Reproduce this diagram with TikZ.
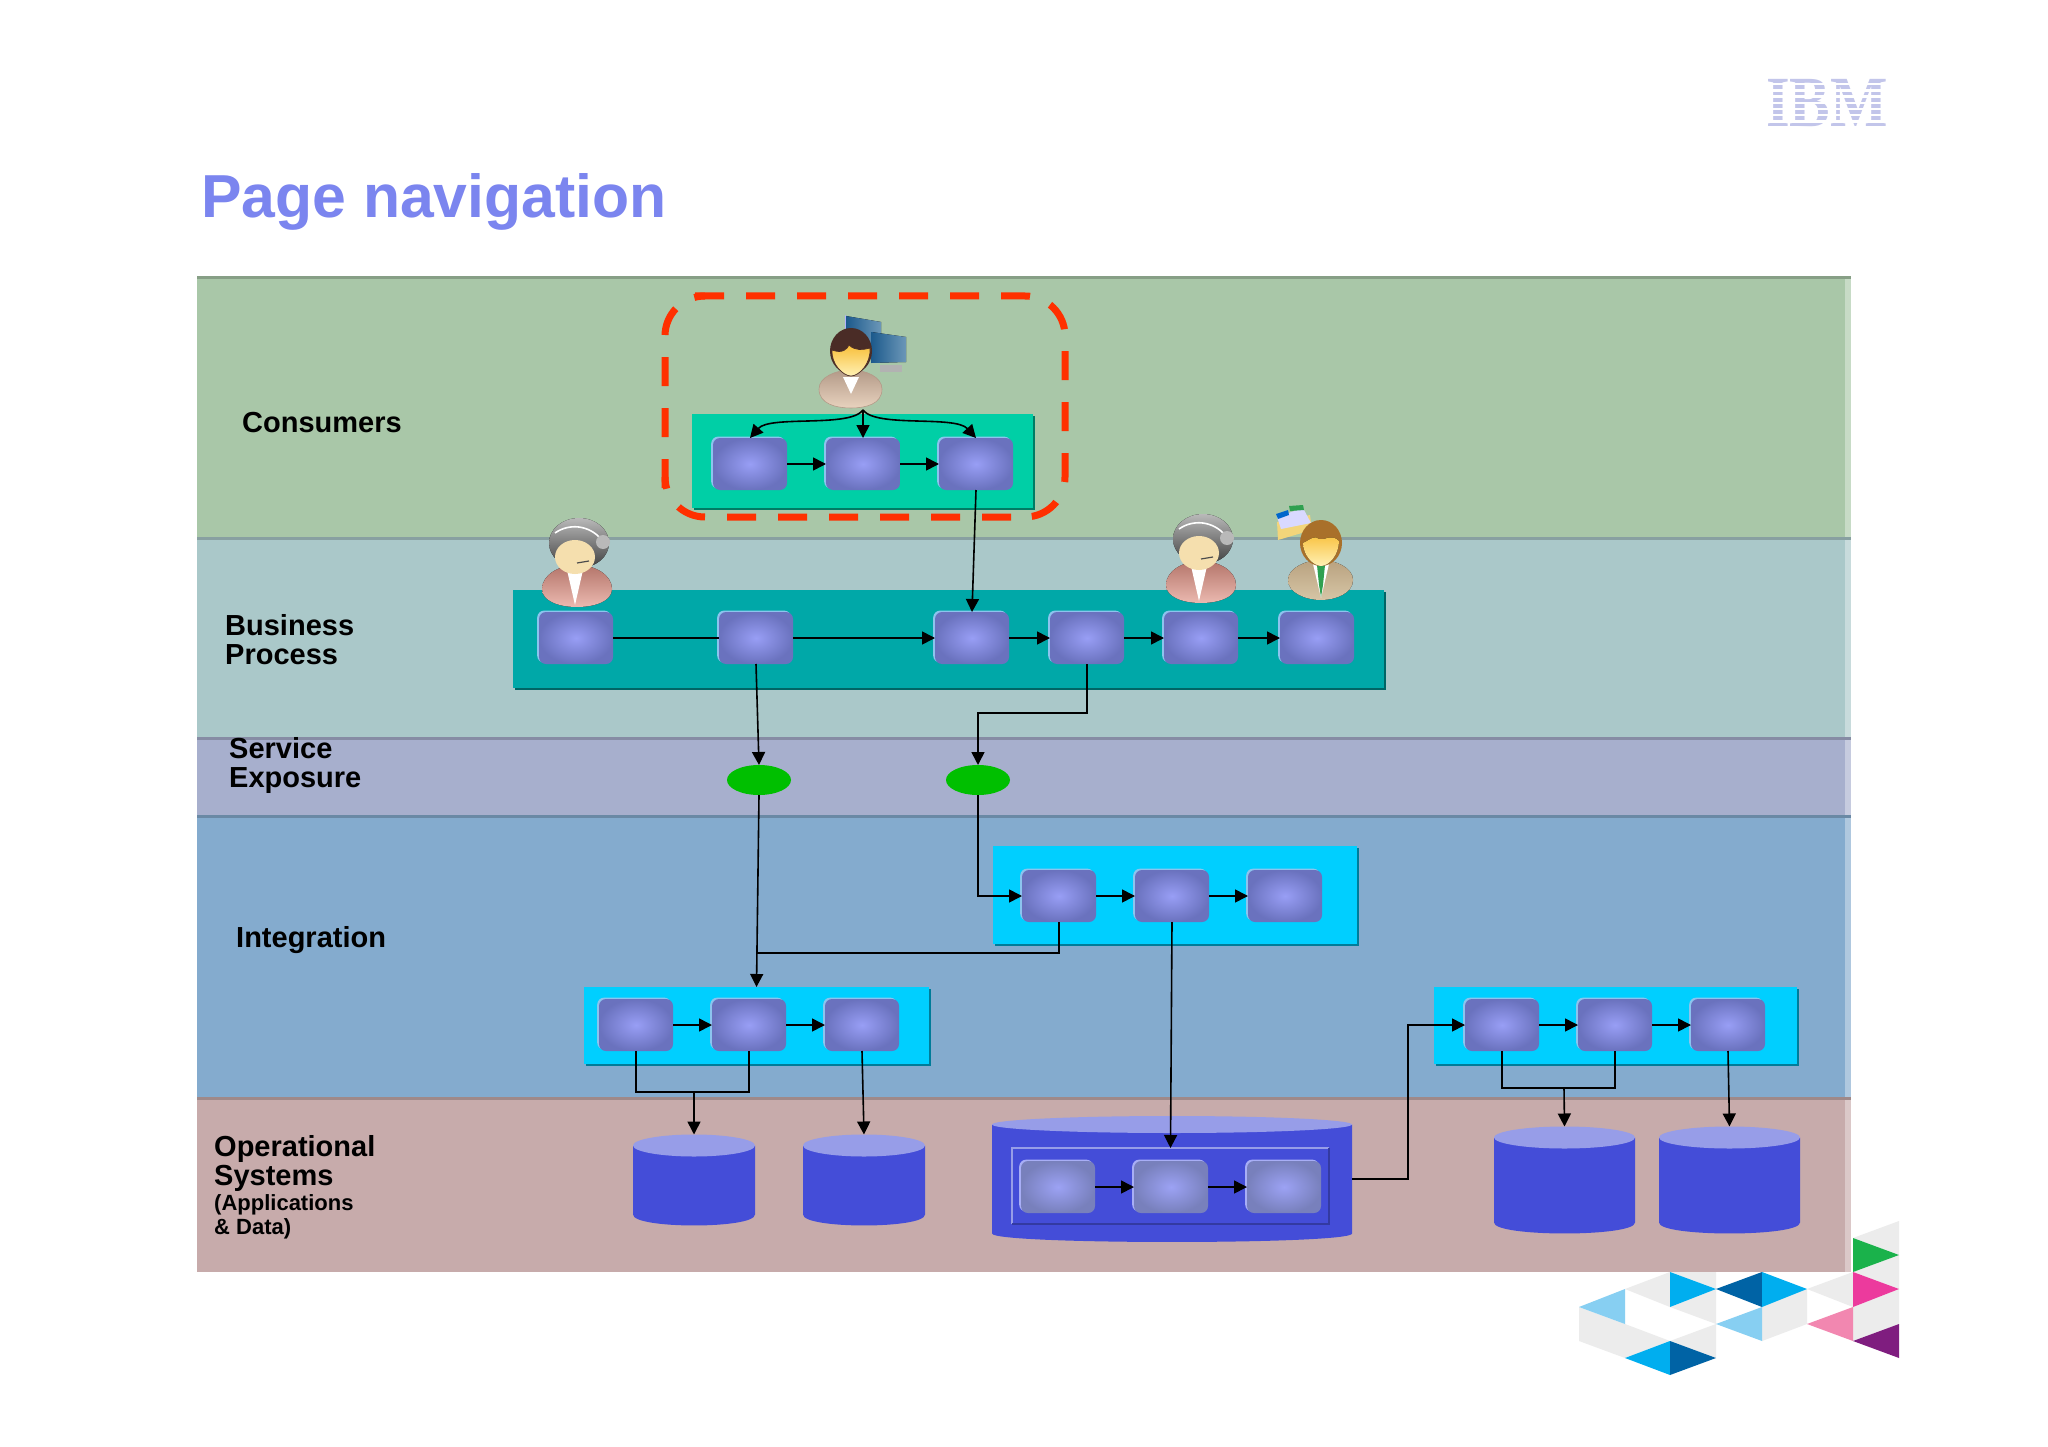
\documentclass[tikz,border=0pt]{standalone}
\usepackage{fontspec}
\setmainfont{Liberation Sans}
\newfontfamily\logofont{Liberation Serif}
\usepackage{tikz}
\usetikzlibrary{arrows.meta,positioning,shadows,shapes.geometric}

\definecolor{conscol}{HTML}{A9C7A8}
\definecolor{busicol}{HTML}{AAC8C9}
\definecolor{servcol}{HTML}{A7AFCD}
\definecolor{integcol}{HTML}{84ABCE}
\definecolor{opercol}{HTML}{C7ABAB}
\definecolor{titlecol}{HTML}{7B85EF}
\definecolor{dashred}{HTML}{FF3000}
\definecolor{dbbody}{HTML}{444DD8}
\definecolor{dbtop}{HTML}{979DE8}
\definecolor{logocol}{HTML}{C2C5EA}
\definecolor{triblue}{HTML}{00AEEF}
\definecolor{tridark}{HTML}{0063A5}
\definecolor{trilight}{HTML}{87CFF2}
\definecolor{trigrey}{HTML}{ECECEC}
\definecolor{trigreen}{HTML}{1AB24B}
\definecolor{tripink}{HTML}{EC3A9D}
\definecolor{trirose}{HTML}{F287B0}
\definecolor{tripurple}{HTML}{7F1D7F}
\definecolor{procmid}{HTML}{989EF5}
\definecolor{procedge}{HTML}{6A72BE}
\definecolor{procrim}{HTML}{8CC4EE}
\definecolor{dbmid}{HTML}{9CA2F4}
\definecolor{dbedge}{HTML}{7880BC}
\definecolor{dbrim}{HTML}{A8AEF6}
\definecolor{holdcons}{HTML}{00CFA6}
\definecolor{holdbusi}{HTML}{00A8A8}
\definecolor{holdint}{HTML}{00CFFF}
\definecolor{monlow}{HTML}{1C5A8C}
\definecolor{monhigh}{HTML}{6C97B8}
\definecolor{skintop}{HTML}{F8BF3A}
\definecolor{skinlow}{HTML}{FFF1B4}
\definecolor{skinpale}{HTML}{F5DFAE}
\definecolor{conshair}{HTML}{4A2C26}
\definecolor{conslow}{HTML}{E8D2BE}
\definecolor{constop}{HTML}{B39A88}
\definecolor{agenttop}{HTML}{B4756A}
\definecolor{agentlow}{HTML}{EBB9B0}
\definecolor{mgrtop}{HTML}{B9A27F}
\definecolor{mgrlow}{HTML}{D6C5A6}
\definecolor{mgrhair}{HTML}{A9702A}
\definecolor{mgrtie}{HTML}{2FA050}
\definecolor{folderyel}{HTML}{F3D57A}

\newcommand{\dbcyl}[3]{% node name, half width, end radius
	\fill[dbbody] ([yshift=-#3pt]#1.north west) -- ([yshift=#3pt]#1.south west) .. controls +(0,1.33*#3) and +(0,1.33*#3) .. ([yshift=#3pt]#1.south east) -- ([yshift=-#3pt]#1.north east) -- cycle;
	\fill[dbtop] ([yshift=-#3pt]#1.north) circle[x radius=#2pt,y radius=#3pt];
}

\tikzset{
	band/.style={rectangle,minimum width=1654pt,inner sep=0pt,outer sep=0pt},
	layername/.style={anchor=west,align=left,inner sep=0pt,font=\fontsize{29}{29}\selectfont\bfseries},
	proc/.style={rectangle,rounded corners=7pt,minimum width=74pt,minimum height=52pt,inner sep=0pt,outer sep=0pt,
		inner color=procmid,outer color=procedge,
		general shadow={fill=procrim,shadow xshift=-1.8pt,shadow yshift=1.4pt}},
	dbproc/.style={rectangle,rounded corners=7pt,minimum width=74pt,minimum height=52pt,inner sep=0pt,outer sep=0pt,
		inner color=dbmid,outer color=dbedge,
		general shadow={fill=dbrim,shadow xshift=-1.8pt,shadow yshift=1.4pt}},
	holder/.style={rectangle,inner sep=0pt,outer sep=0pt,fill=#1,
		general shadow={fill=#1!60!black,shadow xshift=1.6pt,shadow yshift=-1.6pt}},
	expose/.style={ellipse,fill=green!75!black,minimum width=64pt,minimum height=30pt,inner sep=0pt,outer sep=0pt},
	db/.style={rectangle,inner sep=0pt,outer sep=0pt},
	flow/.style={line width=1.6pt,-{Triangle[length=13pt,width=13pt]}},
	conn/.style={line width=1.6pt},
	focusline/.style={dashred,line width=7pt,rounded corners=40pt,dash pattern=on 29pt off 22pt},
	consumer/.pic={
		\fill[white!70!blue] (-6,-37) -- (-6,-9) -- (-4,-9) -- (-4,-35) -- cycle;
		\fill[left color=monlow,right color=monhigh] (-5,-36) -- (30,-30) -- (30,-5) -- (-5,-9) -- cycle;
		\fill[left color=monlow,right color=monhigh] (20,-20) -- (55,-15) -- (55,10) -- (20,11) -- cycle;
		\fill[gray!60] (29,13) rectangle (51,20);
		\draw[top color=constop,bottom color=conslow,draw=constop,line width=.6pt] (-32,37) .. controls (-32,25) and (-15,18) .. (0,18) .. controls (15,18) and (31,25) .. (31,37) .. controls (31,52) and (15,56) .. (0,56) .. controls (-15,56) and (-32,52) .. (-32,37) -- cycle;
		\fill[white] (-8,25) -- (8,25) -- (0,42) -- cycle;
		\fill[conshair] (0,-1) circle[x radius=21pt,y radius=23pt];
		\draw[top color=skintop,bottom color=skinlow,draw=conshair,line width=.7pt] (-19,-2) .. controls (-8,2) and (-4,-3) .. (-2,-7) .. controls (4,-1) and (12,-2) .. (19,-4) .. controls (20,12) and (8,24) .. (0,24) .. controls (-8,24) and (-20,12) .. (-19,-2) -- cycle;
	},
	agent/.pic={
		\fill[top color=agenttop,bottom color=agentlow] (-35,32) .. controls (-35,18) and (-18,8) .. (0,8) .. controls (18,8) and (35,18) .. (35,32) .. controls (35,44) and (18,50) .. (0,50) .. controls (-18,50) and (-35,44) .. (-35,32) -- cycle;
		\fill[white] (-10,13) -- (6,13) -- (-2,48) -- cycle;
		\fill[top color=gray!55,bottom color=black!50!gray] (2,-14) circle[x radius=30pt,y radius=25pt];
		\fill[skinpale] (-2,0) circle[x radius=20pt,y radius=17pt];
		\draw[white,line width=1.6pt] (-22,-24) .. controls (-8,-34) and (12,-32) .. (24,-18);
		\fill[gray!55] (26,-15) circle[radius=7pt];
		\draw[black!70,line width=1.2pt] (0,6) -- (12,4);
	},
	manager/.pic={
		\fill[folderyel] (-44,-21) -- (-11,-28) -- (-9,-13) -- (-43,-3) -- cycle;
		\fill[white!85!blue] (-44,-26) -- (-18,-35) -- (-10,-20) -- (-40,-14) -- cycle;
		\fill[blue!50!cyan!80!black] (-45,-29) -- (-33,-33) -- (-32,-28) -- (-43,-24) -- cycle;
		\fill[mgrtie] (-32,-37) -- (-18,-38) -- (-17,-33) -- (-31,-32) -- cycle;
		\fill[top color=mgrtop,bottom color=mgrlow] (-33,37) .. controls (-33,25) and (-15,17) .. (0,17) .. controls (15,17) and (32,25) .. (32,37) .. controls (32,50) and (15,57) .. (0,57) .. controls (-15,57) and (-33,50) .. (-33,37) -- cycle;
		\fill[white] (-8,21) -- (8,21) -- (0,55) -- cycle;
		\fill[mgrtie] (-4,22) -- (4,22) -- (2,42) -- (0,54) -- (-2,42) -- cycle;
		\fill[mgrhair] (0,0) circle[x radius=21pt,y radius=23pt];
		\fill[top color=skintop,bottom color=skinlow] (-18,0) .. controls (-10,-4) and (-6,-8) .. (-2,-4) .. controls (4,-2) and (10,-10) .. (18,-2) .. controls (18,12) and (8,23) .. (0,23) .. controls (-8,23) and (-18,12) .. (-18,0) -- cycle;
	}
}

\begin{document}
\begin{tikzpicture}[x=1pt,y=-1pt,node distance=39pt]
	\useasboundingbox[fill=white] (0,0) rectangle (2048,1447);

	% layers
	\foreach \bname/\ytop/\bh/\bcol in {bandcons/278/260/conscol,bandbusi/538/200/busicol,bandserv/738/78/servcol,bandint/816/282/integcol,bandoper/1098/174/opercol}{
		\node[band,fill=\bcol,minimum height=\bh pt,anchor=north west] (\bname) at (197,\ytop){};
		\fill[\bcol!65!white] ([xshift=-6pt]\bname.north east) rectangle (\bname.south east);
		\draw[line width=3pt,\bcol!80!black] (\bname.north west) -- (\bname.north east);
	}

	% corner triangles
	\foreach \pts/\tcol in {
		{(1853,1238)--(1899,1221)--(1899,1255)}/trigrey,
		{(1853,1272)--(1899,1255)--(1899,1289)}/trigrey,
		{(1853,1307)--(1899,1289)--(1899,1324)--(1853,1341)}/trigrey,
		{(1807,1289)--(1853,1272)--(1853,1307)}/trigrey,
		{(1762,1307)--(1807,1289)--(1807,1324)--(1762,1341)}/trigrey,
		{(1625,1289)--(1670,1272)--(1670,1307)}/trigrey,
		{(1670,1272)--(1716,1272)--(1716,1289)}/trigrey,
		{(1670,1307)--(1716,1289)--(1716,1324)}/trigrey,
		{(1670,1341)--(1716,1324)--(1716,1358)}/trigrey,
		{(1579,1307)--(1579,1341)--(1625,1358)--(1670,1341)--(1625,1324)}/trigrey,
		{(1853,1238)--(1899,1255)--(1853,1272)}/trigreen,
		{(1853,1272)--(1899,1289)--(1853,1307)}/tripink,
		{(1853,1341)--(1899,1324)--(1899,1358)}/tripurple,
		{(1807,1324)--(1853,1307)--(1853,1341)}/trirose,
		{(1716,1289)--(1762,1272)--(1762,1307)}/tridark,
		{(1762,1272)--(1807,1289)--(1762,1307)}/triblue,
		{(1716,1324)--(1762,1307)--(1762,1341)}/trilight,
		{(1670,1272)--(1716,1289)--(1670,1307)}/triblue,
		{(1579,1307)--(1625,1289)--(1625,1324)}/trilight,
		{(1625,1358)--(1670,1341)--(1670,1375)}/triblue,
		{(1670,1341)--(1716,1358)--(1670,1375)}/tridark}{
		\fill[\tcol] \pts -- cycle;
	}

	% logo
	\node[font=\logofont\fontsize{72}{72}\selectfont\bfseries,text=logocol,xscale=.845,transform shape,inner sep=0pt] (logo) at (1827,103){IBM};
	\foreach \ystripe in {83,89.2,95.4,101.6,107.8,114,120.2}{
		\fill[white] (1760,\ystripe) rectangle (1895,\ystripe+2.4);
	}

	\node[anchor=west,inner sep=0pt,text=titlecol,font=\fontsize{60.7}{61}\selectfont\bfseries] (title) at (201,202){Page navigation};

	% labels
	\node[layername] (lcons) at (242,423){Consumers};
	\node[layername] (lbusi) at (225,640){Business\\Process};
	\node[layername] (lserv) at (229,765){Service\\Exposure};
	\node[layername] (lint) at (236,940){Integration};
	\node[layername] (loper) at (214,1163){Operational\\Systems};
	\node[layername,font=\fontsize{22}{24}\selectfont\bfseries] (lsub) at (214,1217){(Applications\\\& Data)};

	% consumers
	\node[holder=holdcons,minimum width=341pt,minimum height=94pt] (chold) at (862.5,461){};
	\node[proc] (cone) at (750,464){};
	\node[proc,right=of cone] (ctwo){};
	\node[proc,right=of ctwo] (cthree){};
	\node[rectangle,minimum width=400pt,minimum height=221pt,inner sep=0pt,outer sep=0pt] (focus) at (865,406.5){};
	\draw[focusline] (695,296) -- (focus.north east) -- (1065,336);
	\draw[focusline] (1065,351) -- (focus.south east) -- (1025,517);
	\draw[focusline] (1011,517) -- (focus.south west) -- (665,477);
	\draw[focusline] (665,488) -- (focus.north west) -- (705,296);
	\pic at (851,352) {consumer};
	\coordinate (cfork) at (863,410);

	% business process
	\node[holder=holdbusi,minimum width=871pt,minimum height=98pt] (bhold) at (948.5,639){};
	\node[proc] (bone) at (576,638){};
	\node[proc] (btwo) at (756,638){};
	\node[proc] (bthree) at (972,638){};
	\node[proc] (bfour) at (1087,638){};
	\node[proc] (bfive) at (1201,638){};
	\node[proc] (bsix) at (1317,638){};
	\pic at (577,557) {agent};
	\pic at (1201,553) {agent};
	\pic at (1321,543) {manager};

	% service exposure
	\node[expose] (eone) at (759,780){};
	\node[expose] (etwo) at (978,780){};

	% integration
	\node[holder=holdint,minimum width=364pt,minimum height=98pt] (ihold) at (1175,895){};
	\node[proc] (ione) at (1059,896){};
	\node[proc,right=of ione] (itwo){};
	\node[proc,right=of itwo] (ithree){};
	\node[holder=holdint,minimum width=345pt,minimum height=77pt] (lhold) at (756.5,1025.5){};
	\node[proc] (lone) at (636,1025){};
	\node[proc,right=of lone] (ltwo){};
	\node[proc,right=of ltwo] (lthree){};
	\node[holder=holdint,minimum width=363pt,minimum height=77pt] (rhold) at (1615.5,1025.5){};
	\node[proc] (rone) at (1502,1025){};
	\node[proc,right=of rone] (rtwo){};
	\node[proc,right=of rtwo] (rthree){};

	% operational systems
	\begin{scope}[every node/.append style={db}]
		\node[minimum width=122pt,minimum height=91pt] (dbone) at (694,1180){};
		\dbcyl{dbone}{61}{11}
		\node[minimum width=122pt,minimum height=91pt] (dbtwo) at (864,1180){};
		\dbcyl{dbtwo}{61}{11}
		\node[minimum width=141pt,minimum height=107pt] (dbthree) at (1564.5,1180){};
		\dbcyl{dbthree}{70.5}{11}
		\node[minimum width=141pt,minimum height=107pt] (dbfour) at (1729.5,1180){};
		\dbcyl{dbfour}{70.5}{11}
		\node[minimum width=360pt,minimum height=126pt] (dbbig) at (1172,1179){};
		\dbcyl{dbbig}{180}{8.5}
	\end{scope}
	\node[rectangle,minimum width=317pt,minimum height=76pt,inner sep=0pt,outer sep=0pt] (dbinner) at (1170.5,1186){};
	\draw[line width=1.6pt,dbtop] (dbinner.south west) -- (dbinner.north west) -- (dbinner.north east);
	\draw[line width=1.6pt,dbbody!75!black] (dbinner.north east) -- (dbinner.south east) -- (dbinner.south west);
	\node[dbproc] (done) at (1058,1187){};
	\node[dbproc,right=of done] (dtwo){};
	\node[dbproc,right=of dtwo] (dthree){};

	% connectors
	\draw[flow] (cfork) .. controls (850,428) and (770,415) .. (cone.north);
	\draw[flow] (cfork) -- (ctwo.north);
	\draw[flow] (cfork) .. controls (876,428) and (955,415) .. (cthree.north);
	\draw[flow] (cone) -- (ctwo);
	\draw[flow] (ctwo) -- (cthree);
	\draw[flow] (cthree.south) -- (bthree.north);

	\draw[conn] (bone) -- (btwo);
	\draw[flow] (btwo) -- (bthree);
	\draw[flow] (bthree) -- (bfour);
	\draw[flow] (bfour) -- (bfive);
	\draw[flow] (bfive) -- (bsix);
	\draw[flow] (btwo.south) -- (eone.north);
	\draw[flow] (bfour.south) -- ++(0,49) -| (etwo.north);

	\draw[flow] (eone.south) -- (lhold.north);
	\draw[flow] (etwo.south) |- (ione.west);
	\coordinate (ijoin) at (757,953);
	\draw[conn] (ione.south) |- (ijoin);
	\draw[flow] (ione) -- (itwo);
	\draw[flow] (itwo) -- (ithree);
	\draw[flow] (itwo.south) -- (dbinner.north);

	\draw[flow] (lone) -- (ltwo);
	\draw[flow] (ltwo) -- (lthree);
	\coordinate (ldrop) at (694,1092);
	\draw[conn] (lone.south) |- (ldrop) -| (ltwo.south);
	\draw[flow] (ldrop) -- (dbone.north);
	\draw[flow] (lthree.south) -- (dbtwo.north);

	\draw[flow] (rone) -- (rtwo);
	\draw[flow] (rtwo) -- (rthree);
	\coordinate (rdrop) at (1564,1088);
	\draw[conn] (rone.south) |- (rdrop) -| (rtwo.south);
	\draw[flow] (rdrop) -- (dbthree.north);
	\draw[flow] (rthree.south) -- (dbfour.north);

	\draw[flow] (done) -- (dtwo);
	\draw[flow] (dtwo) -- (dthree);
	\draw[flow] (dbbig.east) -- ++(56,0) |- (rone.west);
\end{tikzpicture}
\end{document}
